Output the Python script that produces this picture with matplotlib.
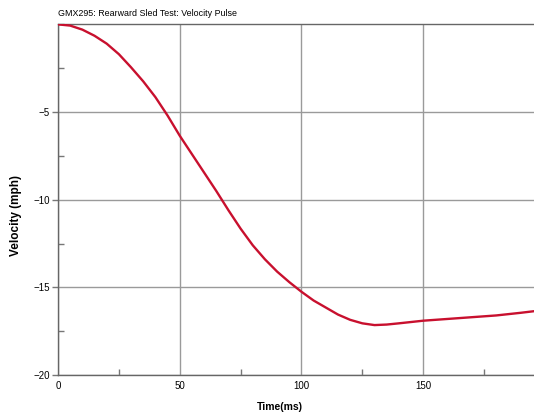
import numpy as np
import matplotlib
matplotlib.use("Agg")
import matplotlib.pyplot as plt
from matplotlib.ticker import MultipleLocator

plt.rcParams['font.family'] = ['Liberation Sans', 'DejaVu Sans']

# Velocity pulse (time in ms, velocity in mph)
time_ms = [0, 5, 10, 15, 20, 25, 30, 35, 40, 45, 50, 55, 60, 65, 70, 75, 80,
           85, 90, 95, 100, 105, 110, 115, 120, 125, 130, 135, 140, 150, 160,
           170, 180, 190, 196]
velocity = [0, -0.07, -0.3, -0.65, -1.1, -1.7, -2.45, -3.25, -4.15, -5.2,
            -6.35, -7.4, -8.45, -9.5, -10.6, -11.65, -12.6, -13.4, -14.1,
            -14.7, -15.25, -15.75, -16.15, -16.55, -16.85, -17.05, -17.15,
            -17.12, -17.05, -16.9, -16.8, -16.7, -16.6, -16.45, -16.35]

title = 'GMX295: Rearward Sled Test: Velocity Pulse'
x_ticks = [0, 50, 100, 150]
y_ticks = [-20, -15, -10, -5]

fig = plt.figure(figsize=(5.34, 4.2), dpi=100)
ax = fig.add_axes([0.1086, 0.107, 0.8914, 0.835])

ax.plot(time_ms, velocity, color='#c8102e', lw=1.7, solid_capstyle='round',
        solid_joinstyle='round', zorder=3)

ax.set_xlim(0, 195.5)
ax.set_ylim(-20, 0)
ax.set_xticks(x_ticks)
ax.set_yticks(y_ticks)
ax.xaxis.set_minor_locator(MultipleLocator(25))
ax.yaxis.set_minor_locator(MultipleLocator(2.5))
ax.grid(True, which='major', color='#9a9a9a', lw=1.0)

ax.tick_params(which='major', direction='out', length=4, width=1,
               color='#777777', labelsize=7, pad=2)
ax.tick_params(axis='x', which='major', length=0, pad=4)
ax.tick_params(which='minor', direction='in', length=4, width=1, color='#777777')

for side in ['left', 'bottom', 'top']:
    ax.spines[side].set_color('#666666')
    ax.spines[side].set_linewidth(1.0)
ax.spines['right'].set_visible(False)

ax.set_xlabel('Time(ms)', fontsize=7.5, fontweight='bold')
ax.set_ylabel('Velocity (mph)', fontsize=8.5, fontweight='bold')
ax.xaxis.set_label_coords(0.467, -0.078)
ax.yaxis.set_label_coords(-0.075, 0.456)
fig.text(0.1086, 0.968, title, fontsize=6.4, ha='left', va='center')

fig.savefig('out.png', dpi=100)
